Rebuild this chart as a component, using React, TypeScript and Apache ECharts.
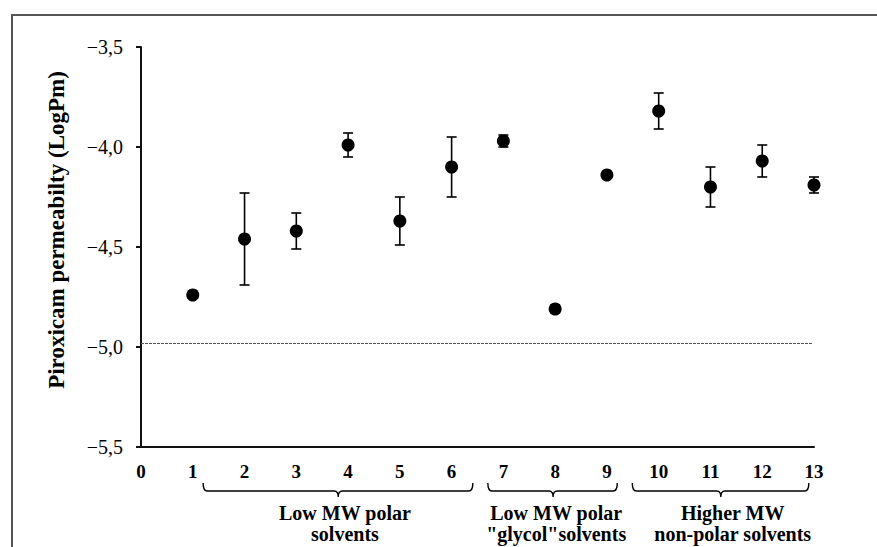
import React, { useEffect, useRef } from "react";
import * as echarts from "echarts";

const solventIds = [1, 2, 3, 4, 5, 6, 7, 8, 9, 10, 11, 12, 13];
const logPm = [-4.74, -4.46, -4.42, -3.99, -4.37, -4.1, -3.97, -4.81, -4.14, -3.82, -4.2, -4.07, -4.19];
const sdErr = [0, 0.23, 0.09, 0.06, 0.12, 0.15, 0.03, 0.02, 0, 0.09, 0.1, 0.08, 0.04];
const referenceLevel = -4.98;
const groupStart = [1.2, 6.7, 9.49];
const groupEnd = [6.41, 9.2, 12.9];
const groupMid = [3.81, 7.96, 11.2];
const groupLabelAt = [3.94, 8.02, 11.43];
const groupLine1 = ["Low MW polar", "Low MW polar", "Higher MW"];
const groupLine2 = ["solvents", "\"glycol\"solvents", "non-polar solvents"];
const yTicks = [-5.5, -5.0, -4.5, -4.0, -3.5];

const FONT = "Liberation Serif";

export default function App() {
  const ref = useRef<HTMLDivElement>(null);
  useEffect(() => {
    document.body.style.margin = "0";
    const chart = echarts.init(ref.current!, undefined, { renderer: "svg" });
    const errData = solventIds.map((x, i) => [x, logPm[i] - sdErr[i], logPm[i] + sdErr[i]]);
    const groupData = groupStart.map((s, i) => [s, groupEnd[i], groupMid[i], groupLabelAt[i], i]);
    const txt = (text: string, x: number, y: number) => ({
      type: "text",
      style: {
        text,
        x,
        y,
        align: "center",
        verticalAlign: "middle",
        fontFamily: FONT,
        fontWeight: "bold",
        fontSize: 20,
        fill: "#000",
      },
    });
    chart.setOption({
      animation: false,
      backgroundColor: "#fff",
      textStyle: { fontFamily: FONT },
      grid: { left: 141, right: 63, top: 47, bottom: 100 },
      xAxis: {
        type: "value",
        min: 0,
        max: 13,
        interval: 1,
        axisLine: { show: true, onZero: false, lineStyle: { color: "#111", width: 2 } },
        axisTick: { show: false },
        splitLine: { show: false },
        axisLabel: { fontFamily: FONT, fontWeight: "bold", fontSize: 19, color: "#000", margin: 15 },
      },
      yAxis: {
        type: "value",
        min: -5.5,
        max: -3.5,
        interval: 0.5,
        axisLine: { show: true, lineStyle: { color: "#111", width: 2 } },
        axisTick: { show: true, length: 5, lineStyle: { color: "#111", width: 2 } },
        splitLine: { show: false },
        axisLabel: {
          fontFamily: FONT,
          fontSize: 20,
          color: "#000",
          margin: 18,
          formatter: (v: number) => {
            const t = yTicks.find((k) => Math.abs(k - v) < 1e-6);
            const val = t === undefined ? v : t;
            return (val < 0 ? "\u2212" : "") + Math.abs(val).toFixed(1).replace(".", ",");
          },
        },
      },
      graphic: [
        {
          type: "rect",
          shape: { x: 12, y: 15, width: 900, height: 600 },
          style: { fill: "none", stroke: "#555", lineWidth: 2 },
          z: 100,
        },
        {
          type: "text",
          x: 56,
          y: 230,
          rotation: Math.PI / 2,
          style: {
            text: "Piroxicam permeabilty (LogPm)",
            fontFamily: FONT,
            fontWeight: "bold",
            fontSize: 23,
            fill: "#000",
            align: "center",
            verticalAlign: "middle",
          },
        },
      ],
      series: [
        {
          type: "scatter",
          data: solventIds.map((x, i) => [x, logPm[i]]),
          symbol: "circle",
          symbolSize: 13,
          itemStyle: { color: "#000", opacity: 1 },
          z: 3,
          markLine: {
            silent: true,
            symbol: "none",
            label: { show: false },
            lineStyle: { color: "#555", type: [3, 1], width: 1.2 },
            data: [[{ coord: [0, referenceLevel] }, { coord: [12.98, referenceLevel] }]],
          },
        },
        {
          type: "custom",
          data: errData,
          z: 2,
          renderItem: (params: any, api: any) => {
            const x = api.value(0);
            const lo = api.coord([x, api.value(1)]);
            const hi = api.coord([x, api.value(2)]);
            if (Math.abs(lo[1] - hi[1]) < 1) return { type: "group", children: [] };
            const w = 5;
            const st = { stroke: "#000", lineWidth: 1.6 };
            return {
              type: "group",
              children: [
                { type: "line", shape: { x1: lo[0], y1: lo[1], x2: hi[0], y2: hi[1] }, style: st },
                { type: "line", shape: { x1: lo[0] - w, y1: lo[1], x2: lo[0] + w, y2: lo[1] }, style: st },
                { type: "line", shape: { x1: hi[0] - w, y1: hi[1], x2: hi[0] + w, y2: hi[1] }, style: st },
              ],
            };
          },
        },
        {
          type: "custom",
          data: groupData,
          clip: false,
          renderItem: (params: any, api: any) => {
            const base = api.coord([0, -5.5])[1];
            const x1 = api.coord([api.value(0), -5.5])[0];
            const x2 = api.coord([api.value(1), -5.5])[0];
            const xm = api.coord([api.value(2), -5.5])[0];
            const xl = api.coord([api.value(3), -5.5])[0];
            const idx = api.value(4);
            const yTop = base + 36;
            const yL = base + 44;
            const yB = base + 50;
            const r = 4;
            const d = `M${x1} ${yTop} Q${x1} ${yL} ${x1 + r} ${yL} L${xm - r} ${yL} Q${xm} ${yL} ${xm} ${yB} Q${xm} ${yL} ${xm + r} ${yL} L${x2 - r} ${yL} Q${x2} ${yL} ${x2} ${yTop}`;
            return {
              type: "group",
              children: [
                { type: "path", shape: { pathData: d }, style: { fill: "none", stroke: "#000", lineWidth: 1.4 } },
                txt(groupLine1[idx], xl, base + 66),
                txt(groupLine2[idx], xl, base + 87),
              ],
            };
          },
        },
      ],
    });
    return () => chart.dispose();
  }, []);
  return <div ref={ref} style={{ width: 877, height: 547 }} />;
}
